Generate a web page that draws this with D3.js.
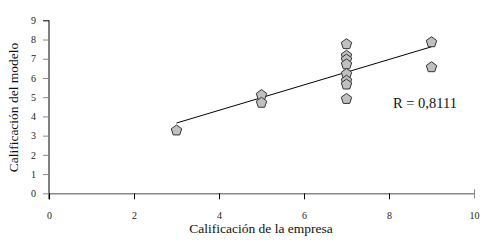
<!DOCTYPE html>
<html><head><meta charset="utf-8">
<script src="https://cdn.jsdelivr.net/npm/d3@7/dist/d3.min.js"></script>
<style>
body{margin:0;background:#fff;}
text{font-family:"Liberation Serif","Times New Roman",serif;}
</style></head>
<body>
<svg id="c" width="494" height="248"></svg>
<script>
const empresa = [3, 5, 5, 7, 7, 7, 7, 7, 7, 7, 7, 9, 9];
const modelo  = [3.31, 5.15, 4.75, 7.8, 7.2, 7.0, 6.75, 6.25, 5.9, 5.7, 4.95, 7.9, 6.6];
const xTicks = [0, 2, 4, 6, 8, 10];
const yTicks = [0, 1, 2, 3, 4, 5, 6, 7, 8, 9];
const xTitle = "Calificación de la empresa";
const yTitle = "Calificación del modelo";
const rLabel = "R = 0,8111";

const svg = d3.select("#c");
const x = d3.scaleLinear().domain([0, 10]).range([49, 474]);
const y = d3.scaleLinear().domain([0, 9]).range([193.3, 20.3]);

// x axis
const gx = svg.append("g").attr("transform", `translate(0,${y(0)})`)
  .call(d3.axisBottom(x).tickValues(xTicks).tickSize(6).tickPadding(13).tickSizeOuter(0));
gx.select(".domain").attr("stroke", "#888").attr("stroke-width", 1.5);
gx.selectAll(".tick line").attr("stroke", "#000");
gx.selectAll(".tick").filter(d => d === 10).select("line").attr("y1", -4).attr("y2", 5).attr("stroke", "#888");
gx.selectAll(".tick text").attr("font-size", 10).attr("fill", "#222").style("font-family", "Liberation Serif");

// y axis
const gy = svg.append("g").attr("transform", `translate(${x(0)},0)`)
  .call(d3.axisLeft(y).tickValues(yTicks).tickSize(6).tickPadding(7).tickSizeOuter(0));
gy.select(".domain").attr("stroke", "#000").attr("d", `M0,${y(9)}V${y(0) + 6}`);
gy.selectAll(".tick line").attr("stroke", "#888");
gy.selectAll(".tick").filter(d => d === 9).select("line").attr("stroke", "#000");
gy.selectAll(".tick").filter(d => d === 0).select("line").attr("x2", -6);
gy.selectAll(".tick text").attr("font-size", 10).attr("fill", "#222").style("font-family", "Liberation Serif");

// regression
const n = empresa.length;
const mx = d3.mean(empresa), my = d3.mean(modelo);
let sxy = 0, sxx = 0;
for (let i = 0; i < n; i++) { sxy += (empresa[i]-mx)*(modelo[i]-my); sxx += (empresa[i]-mx)**2; }
const b = sxy / sxx, a = my - b * mx;
const x0 = d3.min(empresa), x1 = d3.max(empresa);
svg.append("line")
  .attr("x1", x(x0)).attr("y1", y(a + b*x0))
  .attr("x2", x(x1)).attr("y2", y(a + b*x1))
  .attr("stroke", "#000").attr("stroke-width", 1);

// pentagons
const r = 5.5;
const pent = d3.range(5).map(k => {
  const ang = -Math.PI/2 + k * 2*Math.PI/5;
  return [r*Math.cos(ang), r*Math.sin(ang)];
});
const pentPath = "M" + pent.map(p => p.join(",")).join("L") + "Z";
svg.append("g").selectAll("path").data(empresa.map((e, i) => [e, modelo[i]]))
  .join("path")
  .attr("d", pentPath)
  .attr("transform", d => `translate(${x(d[0])},${y(d[1]) + 0.8})`)
  .attr("fill", "#c0c0c0").attr("stroke", "#333").attr("stroke-width", 1);

// texts
svg.append("text").attr("x", 393).attr("y", 108).attr("font-size", 14.5).attr("fill", "#111").text(rLabel);
svg.append("text").attr("x", 261).attr("y", 233).attr("text-anchor", "middle").attr("font-size", 13.5).attr("fill", "#111").text(xTitle);
svg.append("text").attr("transform", "translate(18,107.5) rotate(-90)").attr("text-anchor", "middle").attr("font-size", 13.5).attr("fill", "#111").text(yTitle);
</script>
</body></html>
